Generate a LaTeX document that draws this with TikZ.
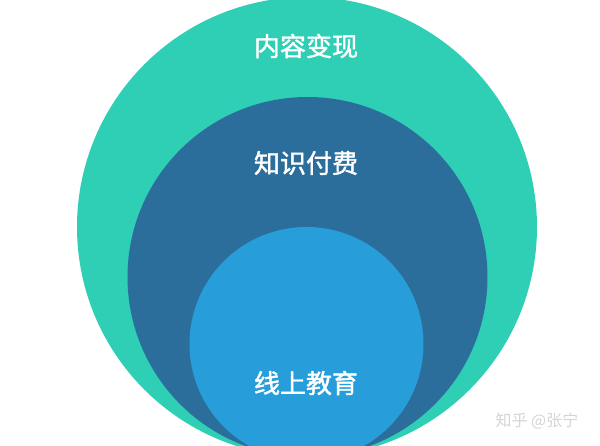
\documentclass[tikz,border=0pt]{standalone}
\usepackage{fontspec}
\newfontfamily\cjk{Noto Sans CJK SC}
\newfontfamily\cjkb[FakeBold=1.6]{Noto Sans CJK SC}
\definecolor{tealc}{HTML}{2ECFB4}
\definecolor{darkc}{HTML}{2C6E9B}
\definecolor{lightc}{HTML}{279EDA}
\definecolor{wmark}{HTML}{D4D4D4}
\begin{document}
\begin{tikzpicture}[x=1pt,y=-1pt,
  lbl/.style={text=white,font=\cjkb\fontsize{26}{31}\selectfont,inner sep=0pt},
  wm/.style={text=wmark,font=\cjk\fontsize{16}{19}\selectfont,inner sep=0pt}]
\useasboundingbox (0,0) rectangle (600,446);
\clip (0,0) rectangle (600,446);
\fill[tealc] (307,227) circle (230pt);
\fill[darkc] (307.5,277) circle (180pt);
\fill[lightc] (306.5,344) circle (117pt);
\node[lbl] (outer) at (306,46) {内容变现};
\node[lbl] (mid) at (306,163) {知识付费};
\node[lbl] (inner) at (306,383) {线上教育};
\node[wm] (mark) at (537,421) {知乎 @张宁};
\end{tikzpicture}
\end{document}
